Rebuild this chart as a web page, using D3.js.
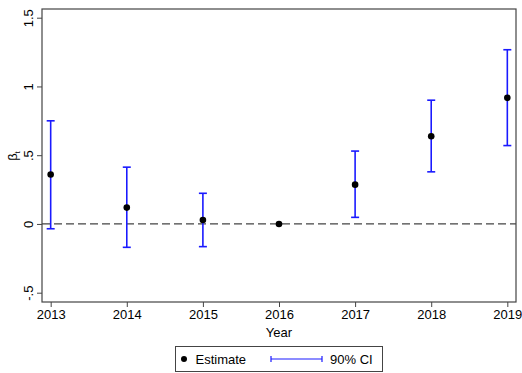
<!DOCTYPE html>
<html>
<head>
  <style>
    html, body { margin: 0; padding: 0; background: #fff; }
    text { font-family: "Liberation Sans", Arial, Helvetica, sans-serif; fill: #000; }
  </style>
  <script src="https://d3js.org/d3.v7.min.js"></script>
</head>
<body>
  <div id="chart"></div>
  <script>
    const years = [2013, 2014, 2015, 2016, 2017, 2018, 2019];
    const estimates = [0.36, 0.119, 0.029, 0, 0.286, 0.638, 0.917];
    const ciLow = [-0.035, -0.17, -0.165, 0, 0.048, 0.379, 0.57];
    const ciHigh = [0.75, 0.413, 0.223, 0, 0.53, 0.90, 1.267];
    const yTicks = [-0.5, 0, 0.5, 1, 1.5];

    const width = 522, height = 373;
    const plotL = 42, plotR = 516, plotT = 9, plotB = 302;

    const svg = d3.select("#chart").append("svg")
      .attr("width", width)
      .attr("height", height);

    const x = d3.scaleLinear().domain([2012.886, 2019.114]).range([plotL, plotR]);
    const y = d3.scaleLinear().domain([-0.5, 1.5]).range([292.7, 17.7]);

    // plot frame
    svg.append("rect")
      .attr("x", plotL).attr("y", plotT)
      .attr("width", plotR - plotL).attr("height", plotB - plotT)
      .attr("fill", "none").attr("stroke", "#444").attr("stroke-width", 1.2);

    // y axis, Stata-style labels: rotated, no leading zero
    const yAxis = svg.append("g")
      .attr("transform", `translate(${plotL},0)`)
      .call(d3.axisLeft(y).tickValues(yTicks).tickSize(5).tickPadding(6)
        .tickFormat(d => String(d).replace("0.", ".")));
    yAxis.select(".domain").remove();
    yAxis.selectAll("line").attr("stroke", "#444");
    yAxis.selectAll("text")
      .attr("font-size", 13)
      .attr("transform", "rotate(-90, -14, 0)")
      .attr("x", -14).attr("y", 0).attr("dy", "0.35em")
      .attr("text-anchor", "middle");

    // x axis
    const xAxis = svg.append("g")
      .attr("transform", `translate(0,${plotB})`)
      .call(d3.axisBottom(x).tickValues(years).tickSize(5).tickPadding(3).tickFormat(d3.format("d")));
    xAxis.select(".domain").remove();
    xAxis.selectAll("line").attr("stroke", "#444");
    xAxis.selectAll("text").attr("font-size", 13);

    // axis titles
    svg.append("text")
      .attr("x", x(2016)).attr("y", 337)
      .attr("text-anchor", "middle").attr("font-size", 13)
      .text("Year");
    const yLab = svg.append("text")
      .attr("transform", "translate(17,156) rotate(-90)")
      .attr("text-anchor", "middle").attr("font-size", 13);
    yLab.append("tspan").text("β");
    yLab.append("tspan").attr("font-size", 8).attr("dy", 3).text("t");

    // zero reference line
    svg.append("line")
      .attr("x1", plotL).attr("x2", plotR)
      .attr("y1", y(0)).attr("y2", y(0))
      .attr("stroke", "#444").attr("stroke-width", 1.2)
      .attr("stroke-dasharray", "8,4");

    const data = years.map((yr, i) => ({ yr, est: estimates[i], lo: ciLow[i], hi: ciHigh[i] }));
    const ci = data.filter(d => d.hi !== d.lo);

    const bars = svg.append("g").attr("stroke", "#1a1aff").attr("stroke-width", 1.6);
    bars.selectAll(".v").data(ci).enter().append("line")
      .attr("x1", d => x(d.yr)).attr("x2", d => x(d.yr))
      .attr("y1", d => y(d.lo)).attr("y2", d => y(d.hi));
    bars.selectAll(".ct").data(ci).enter().append("line")
      .attr("x1", d => x(d.yr) - 4).attr("x2", d => x(d.yr) + 4)
      .attr("y1", d => y(d.hi)).attr("y2", d => y(d.hi));
    bars.selectAll(".cb").data(ci).enter().append("line")
      .attr("x1", d => x(d.yr) - 4).attr("x2", d => x(d.yr) + 4)
      .attr("y1", d => y(d.lo)).attr("y2", d => y(d.lo));

    svg.append("g").selectAll("circle").data(data).enter().append("circle")
      .attr("cx", d => x(d.yr)).attr("cy", d => y(d.est))
      .attr("r", 3.3).attr("fill", "#000");

    // legend
    const lg = svg.append("g");
    lg.append("rect")
      .attr("x", 175.5).attr("y", 346.5).attr("width", 207).attr("height", 25)
      .attr("fill", "#fff").attr("stroke", "#444").attr("stroke-width", 1);
    lg.append("circle").attr("cx", 184).attr("cy", 359).attr("r", 3).attr("fill", "#000");
    lg.append("text").attr("x", 195.5).attr("y", 363.5).attr("font-size", 13).text("Estimate");
    lg.append("line").attr("x1", 271).attr("x2", 322).attr("y1", 359).attr("y2", 359)
      .attr("stroke", "#1a1aff").attr("stroke-width", 1.2);
    [271, 322].forEach(px => lg.append("line")
      .attr("x1", px).attr("x2", px).attr("y1", 356).attr("y2", 362)
      .attr("stroke", "#1a1aff").attr("stroke-width", 1.2));
    lg.append("text").attr("x", 330).attr("y", 363.5).attr("font-size", 13).text("90% CI");
  </script>
</body>
</html>
